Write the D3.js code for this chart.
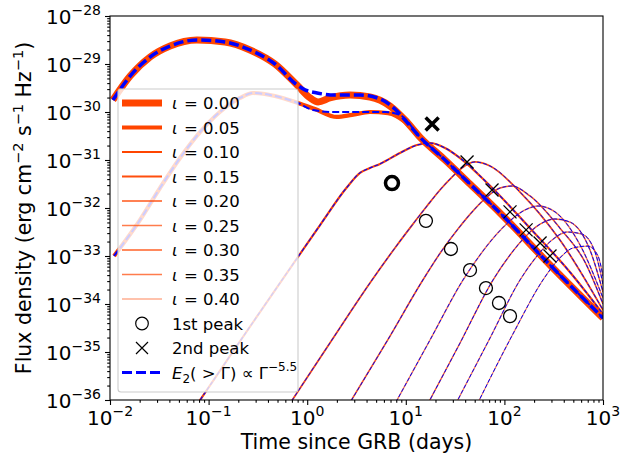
<!DOCTYPE html>
<html>
<head>
<meta charset="utf-8">
<script src="https://cdnjs.cloudflare.com/ajax/libs/d3/7.8.5/d3.min.js"></script>
<style>
body { margin: 0; background: #fff; }
svg { font-family: "DejaVu Sans", sans-serif; }
</style>
</head>
<body>
<svg id="chart" width="622" height="460"></svg>
<script>
// viewing angles
var iotas = ["0.00", "0.05", "0.10", "0.15", "0.20", "0.25", "0.30", "0.35", "0.40"];

// light curves [time (days), flux density]
var curve000 = [[0.0107,1.78e-30],[0.0160,5.6e-30],[0.0255,1.40e-29],[0.0407,2.37e-29],[0.0762,3.16e-29],[0.147,2.87e-29],[0.263,1.96e-29],[0.471,1.0e-29],[0.789,3.65e-30],[1.07,1.96e-30],[1.29,1.62e-30],[1.70,1.96e-30],[2.72,2.26e-30],[4.33,2.05e-30],[6.92,1.33e-30],[9.82,6.8e-31],[13.9,3.0e-31],[25.0,1.0e-31],[44.8,3.16e-32],[90.2,7.9e-33],[290,6.5e-34],[1000,5.1e-35]];
var curve005 = [[0.011,1.0e-33],[0.0201,5.6e-33],[0.0321,2.6e-32],[0.0513,1.10e-31],[0.0818,3.8e-31],[0.130,1.0e-30],[0.208,1.96e-30],[0.282,2.49e-30],[0.471,2.15e-30],[0.807,1.54e-30],[1.20,1.15e-30],[2.0,7.9e-31],[2.84,8.7e-31],[4.33,1.0e-30],[6.6,9.5e-31],[9.82,6.2e-31],[13.9,2.9e-31],[25.0,1.0e-31],[44.8,3.16e-32],[90.2,7.9e-33],[290,6.5e-34],[1000,5.1e-35]];
var curve010 = [[0.0648,4.9e-37],[0.165,8.3e-36],[0.332,6.8e-35],[0.807,9.6e-34],[1.35,4.4e-33],[2.53,2.7e-32],[3.43,5.4e-32],[4.33,6.8e-32],[5.47,8.3e-32],[8.73,1.40e-31],[13.0,2.05e-31],[17.6,2.26e-31],[25.0,1.78e-31],[35.5,1.10e-31],[71.5,2.9e-32],[182,3.8e-33],[463,4.6e-34],[1000,6.2e-35]];
var curve015 = [[0.596,5.9e-37],[1.70,1.54e-35],[4.33,2.74e-34],[7.76,1.47e-33],[11.6,4.4e-33],[16.4,1.10e-32],[22.2,2.37e-32],[29.4,4.4e-32],[38.0,7.1e-32],[50.3,9.1e-32],[71.5,7.5e-32],[144,2.15e-32],[366,2.15e-33],[1000,7.5e-35]];
var curve020 = [[2.41,5.9e-37],[6.92,2.15e-35],[14.9,3.16e-34],[22.7,1.21e-33],[33.8,3.65e-33],[48.1,8.7e-33],[66.6,1.70e-32],[90.2,2.6e-32],[119,2.87e-32],[182,1.78e-32],[366,3.8e-33],[656,7.5e-34],[1000,1.0e-34]];
var curve025 = [[6.92,5.4e-37],[17.6,1.78e-35],[38.0,3.16e-34],[56.6,1.05e-33],[80.3,2.6e-33],[114,5.4e-33],[162,9.1e-33],[219,1.10e-32],[326,8.3e-33],[585,1.70e-33],[1000,1.33e-34]];
var curve030 = [[14.6,4.9e-37],[35.5,1.54e-35],[76.6,3.16e-34],[114,1.05e-33],[162,2.49e-33],[230,4.6e-33],[326,5.9e-33],[463,5.1e-33],[738,1.33e-33],[1000,1.78e-34]];
var curve035 = [[28.1,4.9e-37],[71.5,1.96e-35],[144,3.16e-34],[214,1.0e-33],[304,2.15e-33],[432,3.16e-33],[612,2.87e-33],[830,1.21e-33],[1000,2.6e-34]];
var curve040 = [[46.9,4.9e-37],[122,2.37e-35],[246,3.16e-34],[350,8.3e-34],[497,1.47e-33],[705,1.61e-33],[890,1.0e-33],[1000,3.8e-34]];

// E2(>Gamma) model, only where it differs from the curves above
var e2000 = [[0.0107,1.78e-30],[0.0160,5.6e-30],[0.0255,1.40e-29],[0.0407,2.37e-29],[0.0762,3.16e-29],[0.147,2.87e-29],[0.263,1.96e-29],[0.471,1.0e-29],[0.789,3.65e-30],[0.95,2.9e-30],[1.26,2.49e-30],[1.91,2.26e-30],[3.43,2.26e-30],[5.47,1.87e-30],[7.76,1.15e-30],[9.82,6.8e-31],[13.9,3.0e-31],[25.0,1.0e-31],[44.8,3.16e-32],[90.2,7.9e-33],[290,6.5e-34],[1000,5.1e-35]];
var e2005 = [[0.011,1.0e-33],[0.0201,5.6e-33],[0.0321,2.6e-32],[0.0513,1.10e-31],[0.0818,3.8e-31],[0.130,1.0e-30],[0.208,1.96e-30],[0.282,2.49e-30],[0.471,2.15e-30],[0.807,1.54e-30],[1.145,1.10e-30],[1.83,1.0e-30],[3.43,1.0e-30],[6.17,1.0e-30],[8.73,8.7e-31],[13.9,3.0e-31],[25.0,1.0e-31],[44.8,3.16e-32],[90.2,7.9e-33],[290,6.5e-34],[1000,5.1e-35]];

var curves = [curve000, curve005, curve010, curve015, curve020, curve025, curve030, curve035, curve040];
var e2curves = [e2000, e2005, curve010, curve015, curve020, curve025, curve030, curve035, curve040];

// peak estimates for iota = 0.10 ... 0.40
var peak1T = [7.24, 16.0, 28.7, 44.8, 65.0, 88.1, 114];
var peak1F = [3.3e-32, 5.4e-33, 1.40e-33, 5.1e-34, 2.15e-34, 1.05e-34, 5.6e-35];
var peak2T = [18.5, 41.8, 74.9, 114, 166, 230, 290];
var peak2F = [5.6e-31, 9.1e-32, 2.37e-32, 8.3e-33, 3.5e-33, 1.87e-33, 1.0e-33];

var xTickExps = [-2, -1, 0, 1, 2, 3];
var yTickExps = [-36, -35, -34, -33, -32, -31, -30, -29, -28];

// styles
var orange = "#ff4500", blue = "#0000ff";
var orangeWidth = [7, 4.2, 2.2, 1.8, 1.6, 1.4, 1.4, 1.3, 1.2];
var orangeAlpha = [1, 1, 1, 0.95, 0.9, 0.7, 0.85, 0.7, 0.65];
var blueWidth = [3.5, 2, 1.1, 1, 1, 1, 1, 1, 1];
var blueDash = ["10,4", "7,3", "4,2", "4,2", "4,2", "4,2", "4,2", "4,2", "4,2"];

var margin = {top: 16, right: 19, bottom: 60, left: 110},
    width = 622 - margin.left - margin.right,
    height = 460 - margin.top - margin.bottom;

var svg = d3.select("#chart");
var g = svg.append("g").attr("transform", "translate(" + margin.left + "," + margin.top + ")");

var x = d3.scaleLog().domain([1e-2, 1e3]).range([0, width]);
var y = d3.scaleLog().domain([1e-36, 1e-28]).range([height, 0]);

g.append("clipPath").attr("id", "clip")
  .append("rect").attr("width", width).attr("height", height);

var line = d3.line()
  .x(function(d) { return x(d[0]); })
  .y(function(d) { return y(d[1]); })
  .curve(d3.curveMonotoneX);

var plot = g.append("g").attr("clip-path", "url(#clip)");

curves.forEach(function(c, i) {
  plot.append("path")
    .attr("d", line(c))
    .attr("fill", "none")
    .attr("stroke", orange)
    .attr("stroke-opacity", orangeAlpha[i])
    .attr("stroke-width", orangeWidth[i]);
});
e2curves.forEach(function(c, i) {
  plot.append("path")
    .attr("d", line(c))
    .attr("fill", "none")
    .attr("stroke", blue)
    .attr("stroke-width", blueWidth[i])
    .attr("stroke-dasharray", blueDash[i]);
});

// peak markers
peak1T.forEach(function(t, i) {
  g.append("circle")
    .attr("cx", x(t)).attr("cy", y(peak1F[i])).attr("r", 6.5)
    .attr("fill", "none").attr("stroke", "black")
    .attr("stroke-width", i == 0 ? 3.5 : 1.3);
});
peak2T.forEach(function(t, i) {
  var cx = x(t), cy = y(peak2F[i]), s = 6.5;
  g.append("path")
    .attr("d", "M" + (cx - s) + "," + (cy - s) + "L" + (cx + s) + "," + (cy + s) +
               "M" + (cx - s) + "," + (cy + s) + "L" + (cx + s) + "," + (cy - s))
    .attr("stroke", "black")
    .attr("stroke-width", i == 0 ? 3.5 : 1.3);
});

// axes
function minorTicks(lo, hi) {
  var v = [];
  for (var e = lo; e < hi; e++)
    for (var k = 2; k <= 9; k++) v.push(k * Math.pow(10, e));
  return v;
}
var xMajor = xTickExps.map(function(e) { return Math.pow(10, e); });
var yMajor = yTickExps.map(function(e) { return Math.pow(10, e); });

g.append("g").attr("transform", "translate(0," + height + ")")
  .call(d3.axisBottom(x).tickValues(xMajor).tickSize(5).tickFormat(""));
g.append("g").attr("transform", "translate(0," + height + ")")
  .call(d3.axisBottom(x).tickValues(minorTicks(-2, 3)).tickSize(2.8).tickFormat(""));
g.append("g")
  .call(d3.axisLeft(y).tickValues(yMajor).tickSize(5).tickFormat(""));
g.append("g")
  .call(d3.axisLeft(y).tickValues(minorTicks(-36, -28)).tickSize(2.8).tickFormat(""));

g.selectAll(".domain").remove();
g.selectAll(".tick line").attr("stroke", "black").attr("stroke-width", 1.1);

g.append("rect").attr("width", width).attr("height", height)
  .attr("fill", "none").attr("stroke", "black").attr("stroke-width", 1.1);

xTickExps.forEach(function(e) {
  var t = g.append("text")
    .attr("x", x(Math.pow(10, e))).attr("y", height + 25)
    .attr("text-anchor", "middle").attr("font-size", 20);
  t.append("tspan").text("10");
  t.append("tspan").attr("dy", -9).attr("font-size", 14).text(String(e).replace("-", "\u2212"));
});
yTickExps.forEach(function(e) {
  var t = g.append("text")
    .attr("x", -9).attr("y", y(Math.pow(10, e)) + 8)
    .attr("text-anchor", "end").attr("font-size", 20);
  t.append("tspan").text("10");
  t.append("tspan").attr("dy", -9).attr("font-size", 14).text(String(e).replace("-", "\u2212"));
});

// axis labels
svg.append("text")
  .attr("x", margin.left + width / 2).attr("y", 449)
  .attr("text-anchor", "middle").attr("font-size", 20.5)
  .text("Time since GRB (days)");

var yl = svg.append("text")
  .attr("transform", "translate(31," + (margin.top + height / 2) + ") rotate(-90)")
  .attr("text-anchor", "middle").attr("font-size", 20.5);
yl.append("tspan").text("Flux density (erg cm");
yl.append("tspan").attr("dy", -8).attr("font-size", 14.5).text("\u22122");
yl.append("tspan").attr("dy", 8).text(" s");
yl.append("tspan").attr("dy", -8).attr("font-size", 14.5).text("\u22121");
yl.append("tspan").attr("dy", 8).text(" Hz");
yl.append("tspan").attr("dy", -8).attr("font-size", 14.5).text("\u22121");
yl.append("tspan").attr("dy", 8).text(")");

// legend
var leg = svg.append("g");
leg.append("rect")
  .attr("x", 118).attr("y", 89).attr("width", 180).attr("height", 303).attr("rx", 3)
  .attr("fill", "white").attr("fill-opacity", 0.8)
  .attr("stroke", "#cccccc").attr("stroke-width", 1.1);

var rowY = function(i) { return 103 + i * 24.5; };
iotas.forEach(function(lab, i) {
  leg.append("line")
    .attr("x1", 122).attr("x2", 162).attr("y1", rowY(i)).attr("y2", rowY(i))
    .attr("stroke", orange).attr("stroke-opacity", orangeAlpha[i])
    .attr("stroke-width", orangeWidth[i]);
  var t = leg.append("text").attr("y", rowY(i) + 6).attr("font-size", 16.5);
  t.append("tspan").attr("x", 172).attr("font-style", "italic").text("\u03b9");
  t.append("tspan").attr("x", 184).text("=");
  t.append("tspan").attr("x", 203).text(lab);
});
leg.append("circle").attr("cx", 142).attr("cy", rowY(9)).attr("r", 6.3)
  .attr("fill", "none").attr("stroke", "black").attr("stroke-width", 1.2);
leg.append("text").attr("x", 172).attr("y", rowY(9) + 6).attr("font-size", 16.5).text("1st peak");
leg.append("path")
  .attr("d", "M136," + (rowY(10) - 6) + "L148," + (rowY(10) + 6) + "M136," + (rowY(10) + 6) + "L148," + (rowY(10) - 6))
  .attr("stroke", "black").attr("stroke-width", 1.2);
leg.append("text").attr("x", 172).attr("y", rowY(10) + 6).attr("font-size", 16.5).text("2nd peak");
leg.append("line")
  .attr("x1", 122).attr("x2", 162).attr("y1", rowY(11)).attr("y2", rowY(11))
  .attr("stroke", blue).attr("stroke-width", 3).attr("stroke-dasharray", "10,4");
var et = leg.append("text").attr("x", 172).attr("y", rowY(11) + 6).attr("font-size", 16.5);
et.append("tspan").attr("font-style", "italic").text("E");
et.append("tspan").attr("dy", 4).attr("font-size", 12).text("2");
et.append("tspan").attr("dy", -4).text("( > \u0393) \u221d \u0393");
et.append("tspan").attr("dy", -8).attr("font-size", 12).text("\u22125.5");
</script>
</body>
</html>
